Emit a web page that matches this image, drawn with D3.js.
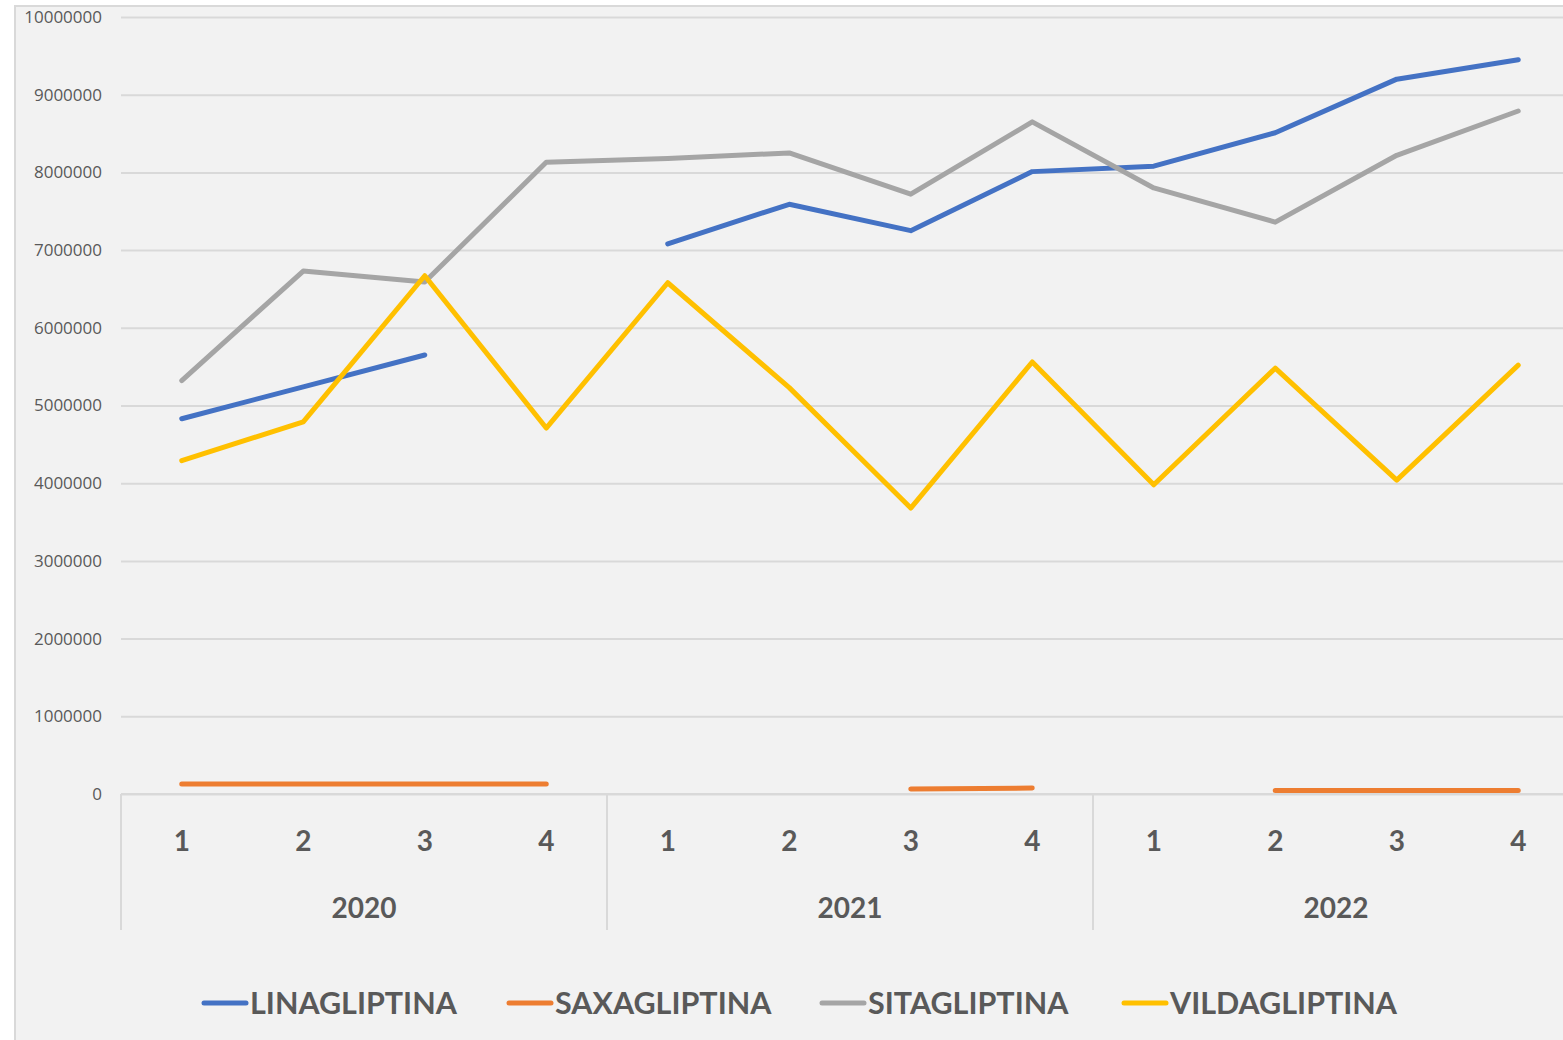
<!DOCTYPE html>
<html>
<head>
<meta charset="utf-8">
<script src="https://cdn.jsdelivr.net/npm/d3@7"></script>
<style>
  body { margin: 0; background: #ffffff; }
  svg { display: block; }
</style>
</head>
<body>
<div class="svg-container"></div>
<script>
// data
const years = ['2020', '2021', '2022'];
const quarters = ['1', '2', '3', '4'];
const yTicks = [0, 1000000, 2000000, 3000000, 4000000, 5000000, 6000000, 7000000, 8000000, 9000000, 10000000];

const seriesNames = ['LINAGLIPTINA', 'SAXAGLIPTINA', 'SITAGLIPTINA', 'VILDAGLIPTINA'];
const seriesColours = ['#4472c4', '#ed7d31', '#a5a5a5', '#ffc000'];

const linagliptina = [4830000, 5240000, 5650000, null, 7080000, 7590000, 7250000, 8010000, 8080000, 8510000, 9200000, 9450000];
const saxagliptina = [130000, 130000, 130000, 130000, null, null, 64000, 77000, null, 45000, 45000, 45000];
const sitagliptina = [5320000, 6730000, 6590000, 8130000, 8180000, 8250000, 7720000, 8650000, 7800000, 7360000, 8220000, 8790000];
const vildagliptina = [4290000, 4790000, 6670000, 4710000, 6580000, 5230000, 3680000, 5560000, 3980000, 5480000, 4040000, 5520000];

const seriesValues = [linagliptina, saxagliptina, sitagliptina, vildagliptina];

const width = 1563;
const height = 1040;
const plot = { left: 121, top: 17, bottom: 794, step: 121.5 };

const svg = d3.select('.svg-container')
  .append('svg')
  .attr('width', width)
  .attr('height', height);

// chart area frame
svg.append('rect')
  .attr('x', 15).attr('y', 6)
  .attr('width', width).attr('height', height)
  .attr('fill', '#f2f2f2')
  .attr('stroke', '#d9d9d9')
  .attr('stroke-width', 2);

// categories are year/quarter pairs
const cats = [];
years.forEach(y => quarters.forEach(q => cats.push(y + '-' + q)));

const x = d3.scaleBand()
  .domain(cats)
  .range([plot.left, plot.left + cats.length * plot.step]);

const y = d3.scaleLinear()
  .domain([0, 10000000])
  .range([plot.bottom, plot.top]);

// gridlines + y labels
const yAxis = d3.axisLeft(y)
  .tickValues(yTicks)
  .tickFormat(d3.format('d'))
  .tickSize(-(width - plot.left))
  .tickPadding(19);

const gy = svg.append('g')
  .attr('transform', `translate(${plot.left},0)`)
  .call(yAxis);

gy.select('.domain').remove();
gy.selectAll('.tick line')
  .attr('stroke', '#d9d9d9')
  .attr('stroke-width', 2);
gy.selectAll('.tick text')
  .attr('fill', '#595959')
  .style('font-family', '"Open Sans", sans-serif')
  .style('font-size', '17px');

// category axis: baseline, quarter labels, year separators and labels
svg.append('line')
  .attr('x1', plot.left).attr('x2', width)
  .attr('y1', y(0)).attr('y2', y(0))
  .attr('stroke', '#d9d9d9').attr('stroke-width', 2);

const yearBand = d3.scaleBand()
  .domain(years)
  .range(x.range());

svg.selectAll('.sep')
  .data(years)
  .enter()
  .append('line')
  .attr('class', 'sep')
  .attr('x1', d => yearBand(d)).attr('x2', d => yearBand(d))
  .attr('y1', y(0)).attr('y2', 930)
  .attr('stroke', '#d9d9d9').attr('stroke-width', 2);

svg.selectAll('.qlabel')
  .data(cats)
  .enter()
  .append('text')
  .attr('class', 'qlabel')
  .attr('x', d => x(d) + x.bandwidth() / 2)
  .attr('y', 851)
  .attr('text-anchor', 'middle')
  .attr('fill', '#595959')
  .style('font-family', 'Lato, sans-serif')
  .style('font-weight', 'bold')
  .style('font-size', '28px')
  .text(d => d.split('-')[1]);

svg.selectAll('.ylabel')
  .data(years)
  .enter()
  .append('text')
  .attr('class', 'ylabel')
  .attr('x', d => yearBand(d) + yearBand.bandwidth() / 2)
  .attr('y', 918)
  .attr('text-anchor', 'middle')
  .attr('fill', '#595959')
  .style('font-family', 'Lato, sans-serif')
  .style('font-weight', 'bold')
  .style('font-size', '28px')
  .text(d => d);

// series lines
const line = d3.line()
  .defined(d => d.v !== null)
  .x(d => x(d.c) + x.bandwidth() / 2)
  .y(d => y(d.v));

seriesNames.forEach((name, i) => {
  const pts = seriesValues[i].map((v, j) => ({ c: cats[j], v: v }));
  svg.append('path')
    .datum(pts)
    .attr('fill', 'none')
    .attr('stroke', seriesColours[i])
    .attr('stroke-width', 5)
    .attr('stroke-linecap', 'round')
    .attr('stroke-linejoin', 'round')
    .attr('d', line);
});

// legend
const legendX = [202, 507, 820, 1122];
const legend = svg.selectAll('.legend')
  .data(seriesNames)
  .enter()
  .append('g')
  .attr('class', 'legend')
  .attr('transform', (d, i) => `translate(${legendX[i]},1003)`);

legend.append('line')
  .attr('x1', 2).attr('x2', 44)
  .attr('y1', 0).attr('y2', 0)
  .attr('stroke', (d, i) => seriesColours[i])
  .attr('stroke-width', 5)
  .attr('stroke-linecap', 'round');

legend.append('text')
  .attr('x', 48)
  .attr('y', 11)
  .attr('fill', '#595959')
  .style('font-family', 'Lato, sans-serif')
  .style('font-weight', 'bold')
  .style('font-size', '30.5px')
  .text(d => d);
</script>
</body>
</html>
